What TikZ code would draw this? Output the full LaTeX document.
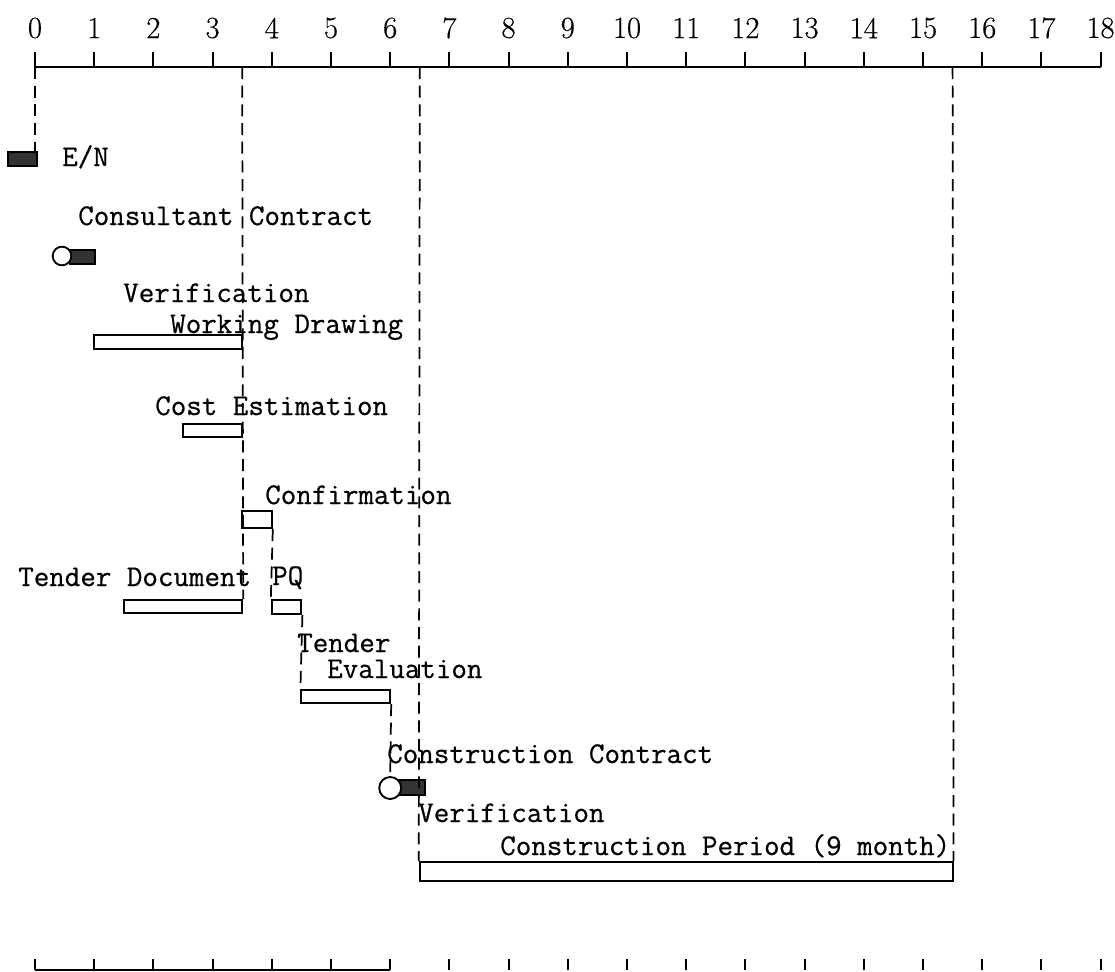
\documentclass[tikz,border=0pt]{standalone}
\usepackage{fontspec}
\newfontfamily\tw{Latin Modern Mono}[FakeBold=0.6]
\newfontfamily\nm{Latin Modern Roman}[FakeBold=0.4]
\usetikzlibrary{fit}
\begin{document}
\begin{tikzpicture}[x=0.75pt,y=-0.75pt,
  lbl/.style={font=\tw\fontsize{22.6}{26}\selectfont, anchor=base west, inner sep=0pt},
  num/.style={font=\nm\fontsize{23}{27}\selectfont, inner sep=0pt},
  axisline/.style={line width=1.4pt},
  bar/.style={draw, line width=1.5pt, inner sep=0pt},
  solidbox/.style={draw, fill=black!80, line width=0.8pt, inner sep=0pt},
  ring/.style={draw, circle, line width=1.4pt, inner sep=0pt, fill=white},
  dashline/.style={line width=1.3pt, dash pattern=on 9pt off 5pt}]
\useasboundingbox (0,0) rectangle (1115,972);
\def\u{59.2}
% top axis
\foreach \m in {0,...,18}{
  \coordinate (t\m) at ({35+\u*\m},67);
  \draw[axisline] (t\m) -- ++(0,-15);
  \node[num] (n\m) at ({35+\u*\m},28) {\m};
}
\draw[axisline] (t0) -- (t18);
\coordinate (t35) at ({35+\u*3.5},67);
\coordinate (t65) at ({35+\u*6.5},67);
\coordinate (t155) at ({35+\u*15.5},67);
% bottom axis
\foreach \m in {0,...,18}{
  \coordinate (b\m) at ({35+\u*\m},970);
  \draw[axisline] (b\m) -- ++(0,-11);
}
\draw[axisline] (b0) -- (b6);
% E/N
\coordinate (enA) at (8,152); \coordinate (enB) at (37,166);
\node[solidbox, fit=(enA)(enB)] (en) {};
\node[lbl] (lEN) at (62,166) {E/N};
% consultant contract
\node[lbl] (lCC) at (78,225) {Consultant Contract};
\coordinate (ccA) at (70,250); \coordinate (ccB) at (95,264);
\node[solidbox, fit=(ccA)(ccB)] (ccbox) {};
\node[ring, minimum size=14pt] (ccring) at (62,256) {};
% working drawing
\node[lbl] (lV1) at (123,302) {Verification};
\node[lbl] (lWD) at (170,333) {Working Drawing};
\coordinate (wdA) at ({35+\u*1},335); \coordinate (wdB) at ({35+\u*3.5},349);
\node[bar, fit=(wdA)(wdB)] (wd) {};
% cost estimation
\node[lbl] (lCE) at (155,415) {Cost Estimation};
\coordinate (ceA) at ({35+\u*2.5},424); \coordinate (ceB) at ({35+\u*3.5},437);
\node[bar, fit=(ceA)(ceB)] (ce) {};
% confirmation
\node[lbl] (lCF) at (265,504) {Confirmation};
\coordinate (cfA) at ({35+\u*3.5},511); \coordinate (cfB) at ({35+\u*4},528);
\node[bar, fit=(cfA)(cfB)] (cf) {};
% tender document / PQ
\node[lbl] (lTD) at (18,586) {Tender Document};
\node[lbl] (lPQ) at (272,585) {PQ};
\coordinate (tdA) at ({35+\u*1.5},600); \coordinate (tdB) at ({35+\u*3.5},613);
\node[bar, fit=(tdA)(tdB)] (td) {};
\coordinate (pqA) at ({35+\u*4},600); \coordinate (pqB) at ({35+\u*4.5},614);
\node[bar, fit=(pqA)(pqB)] (pq) {};
% tender evaluation
\node[lbl] (lT) at (297,652) {Tender};
\node[lbl] (lEV) at (327,678) {Evaluation};
\coordinate (teA) at ({35+\u*4.5},690); \coordinate (teB) at ({35+\u*6},703);
\node[bar, fit=(teA)(teB)] (te) {};
% construction contract
\node[lbl] (lCO) at (387,763) {Construction Contract};
\coordinate (coA) at (398,780); \coordinate (coB) at (425,795);
\node[solidbox, fit=(coA)(coB)] (cobox) {};
\node[ring, minimum size=16.5pt] (coring) at ({35+\u*6},788) {};
% construction period
\node[lbl] (lV2) at (418,822) {Verification};
\node[lbl] (lCP) at (500,855) {Construction Period (9 month)};
\coordinate (cpA) at ({35+\u*6.5},862); \coordinate (cpB) at ({35+\u*15.5},881);
\node[bar, fit=(cpA)(cpB)] (cp) {};
% dashed guide lines
\draw[dashline] (t0) -- (t0 |- en.north);
\draw[dashline] (t35) -- (td.north east);
\draw[dashline] (cf.south east) -- (pq.north west);
\draw[dashline] (pq.south east) -- (te.north west);
\draw[dashline] (te.south east) -- (coring.north);
\draw[dashline] (t65) -- (cp.north west);
\draw[dashline] (t155) -- (cp.north east);
\end{tikzpicture}
\end{document}
